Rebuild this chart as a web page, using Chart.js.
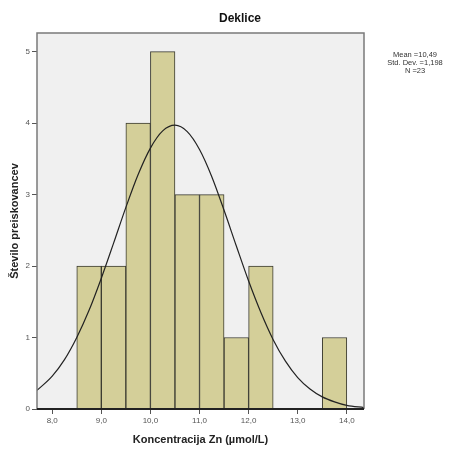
<!DOCTYPE html>
<html>
<head>
<meta charset="utf-8">
<script src="https://cdn.jsdelivr.net/npm/chart.js@4"></script>
<style>
  html, body { margin: 0; padding: 0; background: #fff; }
  #wrap { width: 454px; height: 449px; position: relative; }
</style>
</head>
<body>
<div id="wrap"><canvas id="hist" width="454" height="449"></canvas></div>
<script>
/* ──── Données ───────────────────────────────────────── */

const binCenters = [8.75, 9.25, 9.75, 10.25, 10.75, 11.25, 11.75, 12.25, 12.75, 13.25, 13.75];
const counts     = [2, 2, 4, 5, 3, 3, 1, 2, 0, 0, 1];

// normal curve
const curveX = [7.69, 8.0, 8.25, 8.5, 8.75, 9.0, 9.25, 9.5, 9.75, 10.0, 10.25, 10.5,
                10.75, 11.0, 11.25, 11.5, 11.75, 12.0, 12.25, 12.5, 12.75, 13.0, 13.25,
                13.5, 13.75, 14.0, 14.35];
const curveY = [0.26, 0.46, 0.69, 1.00, 1.38, 1.83, 2.32, 2.82, 3.28, 3.65, 3.89, 3.97,
                3.88, 3.63, 3.25, 2.78, 2.28, 1.79, 1.35, 0.97, 0.67, 0.44, 0.28,
                0.17, 0.10, 0.05, 0.02];

const xTicks = [8, 9, 10, 11, 12, 13, 14];
const yTicks = [0, 1, 2, 3, 4, 5];

const chartTitle = 'Deklice';
const statLines  = ['Mean =10,49', 'Std. Dev. =1,198', 'N =23'];

/* ──── Plugin : fond, cadre, titre, stats ────────────── */

const spssFrame = {
  id: 'spssFrame',
  beforeDraw(chart) {
    const { ctx, chartArea: a } = chart;
    ctx.save();
    ctx.fillStyle = '#f0f0f0';
    ctx.fillRect(a.left, a.top, a.right - a.left, a.bottom - a.top);
    ctx.restore();
  },
  afterDraw(chart) {
    const { ctx, chartArea: a } = chart;
    ctx.save();
    ctx.strokeStyle = '#7a7a7a';
    ctx.lineWidth = 1.5;
    ctx.beginPath();
    ctx.moveTo(a.left, a.bottom);
    ctx.lineTo(a.left, a.top);
    ctx.lineTo(a.right, a.top);
    ctx.lineTo(a.right, a.bottom);
    ctx.stroke();
    ctx.strokeStyle = '#222';
    ctx.lineWidth = 2;
    ctx.beginPath();
    ctx.moveTo(a.left, a.bottom);
    ctx.lineTo(a.right, a.bottom);
    ctx.stroke();

    ctx.fillStyle = '#111';
    ctx.textAlign = 'center';
    ctx.textBaseline = 'middle';
    ctx.font = 'bold 12px "Liberation Sans", Arial, sans-serif';
    ctx.fillText(chartTitle, 240, 19);

    ctx.fillStyle = '#333';
    ctx.font = '7.5px "Liberation Sans", Arial, sans-serif';
    statLines.forEach((s, i) => ctx.fillText(s, 415, 55 + i * 8));
    ctx.restore();
  },
};

/* ──── Graphique ─────────────────────────────────────── */

const tickFont = { family: '"Liberation Sans", Arial, sans-serif', size: 8 };
const axisFont = { family: '"Liberation Sans", Arial, sans-serif', size: 11, weight: 'bold' };

new Chart(document.getElementById('hist').getContext('2d'), {
  type: 'bar',
  data: {
    datasets: [
      {
        type: 'line',
        data: curveX.map((x, i) => ({ x, y: curveY[i] })),
        borderColor: '#222',
        borderWidth: 1.2,
        pointRadius: 0,
        cubicInterpolationMode: 'monotone',
        fill: false,
        order: 0,
      },
      {
        type: 'bar',
        data: binCenters.map((x, i) => ({ x, y: counts[i] })),
        backgroundColor: '#d4cf99',
        borderColor: '#3a3a30',
        borderWidth: 1,
        barPercentage: 1,
        categoryPercentage: 1,
        order: 1,
      },
    ],
  },
  options: {
    responsive: false,
    animation: false,
    layout: { padding: { left: 0, top: 33, right: 90, bottom: 0 } },
    plugins: { legend: { display: false }, tooltip: { enabled: false } },
    scales: {
      x: {
        type: 'linear',
        offset: false,
        min: 7.69, max: 14.35,
        afterBuildTicks: s => { s.ticks = xTicks.map(v => ({ value: v })); },
        afterFit: s => { s.height = 40; },
        grid: { offset: false, drawOnChartArea: false, drawTicks: true, tickLength: 5, tickColor: '#555', color: '#555' },
        border: { display: false },
        ticks: {
          color: '#555', font: tickFont, padding: 2, maxRotation: 0,
          callback: v => v.toFixed(1).replace('.', ','),
        },
        title: { display: true, text: 'Koncentracija Zn (µmol/L)', color: '#222', font: axisFont, padding: { top: 4, bottom: 2 } },
      },
      y: {
        type: 'linear',
        min: 0, max: 5.26,
        afterBuildTicks: s => { s.ticks = yTicks.map(v => ({ value: v })); },
        afterFit: s => { s.width = 37; },
        grid: { drawOnChartArea: false, drawTicks: true, tickLength: 5, tickColor: '#555', color: '#555' },
        border: { display: false },
        ticks: { color: '#555', font: tickFont, padding: 2 },
        title: { display: true, text: 'Število preiskovancev', color: '#222', font: axisFont, padding: { top: 8, bottom: 2 } },
      },
    },
  },
  plugins: [spssFrame],
});
</script>
</body>
</html>
